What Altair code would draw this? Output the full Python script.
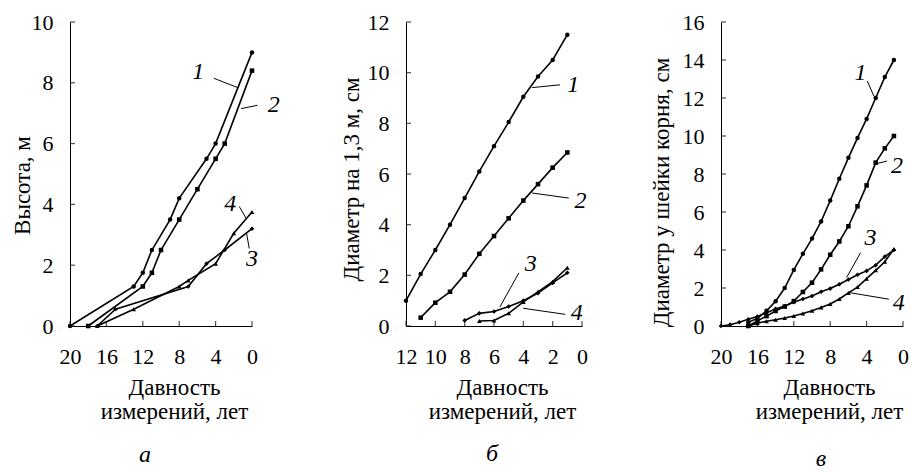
import altair as alt
import pandas as pd

FONT = "Liberation Serif"

# ---------- Panel а : height ----------
A_X1 = [20, 13, 12, 11, 9, 8, 5, 4, 0]
A_Y1 = [0, 1.3, 1.75, 2.5, 3.5, 4.2, 5.5, 6.0, 9.0]
A_X2 = [18, 12, 11, 10, 8, 6, 4, 3, 0]
A_Y2 = [0, 1.3, 1.75, 2.5, 3.5, 4.5, 5.5, 6.0, 8.4]
A_X3 = [17, 15, 7, 5, 3, 0]
A_Y3 = [0, 0.55, 1.3, 2.05, 2.5, 3.2]
A_X4 = [17, 13, 8, 7, 4, 2, 0]
A_Y4 = [0, 0.55, 1.3, 1.5, 2.05, 3.05, 3.75]
A_XT = [20, 16, 12, 8, 4, 0]
A_YT = [0, 2, 4, 6, 8, 10]
A_LAB = ["1", "2", "3", "4"]
A_LAB_X = [5.9, -2.4, 0.0, 2.4]
A_LAB_Y = [8.35, 7.26, 2.2, 4.0]
A_LEAD_X1 = [4.2, 1.2, 0.6, 1.4]
A_LEAD_Y1 = [8.15, 7.15, 3.05, 3.93]
A_LEAD_X2 = [1.55, -0.6, 0.3, 0.66]
A_LEAD_Y2 = [7.84, 7.26, 2.55, 3.55]

# ---------- Panel б : diameter at 1.3 m ----------
B_X1 = [12, 11, 10, 9, 8, 7, 6, 5, 4, 3, 2, 1]
B_Y1 = [1.0, 2.05, 3.0, 4.0, 5.05, 6.1, 7.1, 8.05, 9.05, 9.85, 10.5, 11.5]
B_X2 = [11, 10, 9, 8, 7, 6, 5, 4, 3, 2, 1]
B_Y2 = [0.33, 0.92, 1.35, 2.03, 2.85, 3.55, 4.25, 4.95, 5.6, 6.25, 6.85]
B_X3 = [8, 7, 6, 5, 4, 3, 2, 1]
B_Y3 = [0.22, 0.5, 0.57, 0.77, 1.0, 1.3, 1.7, 2.1]
B_X4 = [7, 6, 5, 4, 3, 2, 1]
B_Y4 = [0.2, 0.22, 0.5, 0.95, 1.35, 1.75, 2.3]
B_XT = [12, 10, 8, 6, 4, 2, 0]
B_YT = [0, 2, 4, 6, 8, 10, 12]
B_LAB = ["1", "2", "3", "4"]
B_LAB_X = [0.6, 0.1, 3.5, 0.35]
B_LAB_Y = [9.53, 4.92, 2.44, 0.52]
B_LEAD_X1 = [3.4, 3.4, 4.3, 4.0]
B_LEAD_Y1 = [9.41, 5.25, 2.1, 0.7]
B_LEAD_X2 = [1.5, 0.9, 5.6, 1.15]
B_LEAD_Y2 = [9.52, 5.05, 0.75, 0.46]

# ---------- Panel в : root collar diameter ----------
C_X1 = [17, 16, 15, 14, 13, 12, 11, 10, 9, 8, 7, 6, 5, 4, 3, 2, 1]
C_Y1 = [0.2, 0.4, 0.8, 1.3, 2.0, 2.95, 3.8, 4.6, 5.5, 6.6, 7.75, 8.85, 9.9, 10.9, 12.0, 13.1, 14.0]
C_X2 = [17, 16, 15, 14, 13, 12, 11, 10, 9, 8, 7, 6, 5, 4, 3, 2, 1]
C_Y2 = [0.0, 0.27, 0.52, 0.79, 1.02, 1.31, 1.79, 2.28, 2.98, 3.75, 4.45, 5.25, 6.3, 7.4, 8.6, 9.35, 10.0]
C_X3 = [20, 19, 18, 17, 16, 15, 14, 13, 12, 11, 10, 9, 8, 7, 6, 5, 4, 3, 2, 1]
C_Y3 = [0, 0.07, 0.2, 0.35, 0.5, 0.7, 0.9, 1.05, 1.25, 1.42, 1.58, 1.8, 1.97, 2.2, 2.45, 2.7, 2.9, 3.2, 3.65, 4.0]
C_X4 = [17, 16, 15, 14, 13, 12, 11, 10, 9, 8, 7, 6, 5, 4, 3, 2, 1]
C_Y4 = [0, 0.15, 0.25, 0.33, 0.42, 0.53, 0.66, 0.8, 0.98, 1.16, 1.42, 1.74, 2.05, 2.49, 2.93, 3.38, 4.05]
C_XT = [20, 16, 12, 8, 4, 0]
C_YT = [0, 2, 4, 6, 8, 10, 12, 14, 16]
C_LAB = ["1", "2", "3", "4"]
C_LAB_X = [4.66, 0.65, 3.57, 0.47]
C_LAB_Y = [13.34, 8.42, 4.65, 1.23]
C_LEAD_X1 = [3.93, 3.2, 4.66, 5.92]
C_LEAD_Y1 = [12.9, 8.51, 3.86, 1.76]
C_LEAD_X2 = [3.2, 1.75, 6.2, 1.56]
C_LEAD_Y2 = [12.1, 8.68, 2.55, 1.41]

SERIES = ["1", "2", "3", "4"]
SHAPES = ["circle", "square", "diamond", "triangle-up"]
X_TITLE = ["Давность", "измерений, лет"]


def panel(series, xt, yt, xdom, ydom, ytitle, lab, labx, laby, lx1, ly1, lx2, ly2,
          width, height, xtitle_x, ytitle_x, ytitle_y, letter, letter_dx, letter_off, sizes):
    rows = []
    for s, xs, ys in series:
        for x, y in zip(xs, ys):
            rows.append({"s": s, "yr": x, "v": y})
    df = pd.DataFrame(rows)

    xscale = alt.Scale(domain=xdom, reverse=True, nice=False, zero=False)
    yscale = alt.Scale(domain=ydom, nice=False, zero=False)
    xaxis = alt.Axis(values=xt, title=X_TITLE, grid=False, ticks=False, tickSize=0,
                     domainColor="black", labelFont=FONT, labelFontSize=22,
                     labelColor="black", labelFlush=False, labelOverlap=False,
                     titleFont=FONT, titleFontSize=23, titleFontWeight="normal",
                     titleColor="black", labelPadding=20, titleX=xtitle_x, titleY=50,
                     titleAlign="center", titleBaseline="top", titleLineHeight=24)
    yaxis = alt.Axis(values=yt, title=ytitle, grid=False, ticks=False, tickSize=0,
                     domainColor="black", labelFont=FONT, labelFontSize=22,
                     labelColor="black", labelFlush=False, labelOverlap=False,
                     titleFont=FONT, titleFontSize=23, titleFontWeight="normal",
                     titleColor="black", labelPadding=17, titleX=ytitle_x, titleY=ytitle_y,
                     titleAngle=270, titleAlign="center", titleBaseline="middle")
    X = alt.X("yr:Q", scale=xscale, axis=xaxis)
    Y = alt.Y("v:Q", scale=yscale, axis=yaxis)

    lines = alt.Chart(df).mark_line(color="black", strokeWidth=1.6).encode(
        X, Y, detail="s:N")
    points = alt.Chart(df).mark_point(filled=True, color="black", opacity=1).encode(
        X, Y,
        shape=alt.Shape("s:N", scale=alt.Scale(domain=SERIES, range=SHAPES), legend=None),
        size=alt.Size("s:O", scale=alt.Scale(domain=SERIES, range=sizes), legend=None),
    )
    xt_df = pd.DataFrame({"yr": xt, "v": [ydom[0]] * len(xt)})
    yt_df = pd.DataFrame({"yr": [xdom[1]] * len(yt), "v": yt})
    xticks = alt.Chart(xt_df).mark_tick(orient="vertical", size=5, thickness=1.2,
                                        color="black", yOffset=-2.5).encode(X, Y)
    yticks = alt.Chart(yt_df).mark_tick(orient="horizontal", size=5, thickness=1.2,
                                        color="black", xOffset=2.5).encode(X, Y)
    lead_df = pd.DataFrame({"yr": lx1, "v": ly1, "yr2": lx2, "v2": ly2})
    leaders = alt.Chart(lead_df).mark_rule(color="black", strokeWidth=1).encode(
        X, Y, x2="yr2:Q", y2="v2:Q")
    lab_df = pd.DataFrame({"yr": labx, "v": laby, "t": lab})
    labels = alt.Chart(lab_df).mark_text(font=FONT, fontStyle="italic", fontSize=24,
                                         color="black").encode(X, Y, text="t:N")
    # tiny white bold glyph: makes the browser load the serif family's faces
    warm_df = pd.DataFrame({"yr": [xdom[0]], "v": [ydom[1]], "t": ["."]})
    warm = alt.Chart(warm_df).mark_text(font=FONT, fontWeight="bold", fontSize=2,
                                        color="white").encode(X, Y, text="t:N")
    return alt.layer(lines, points, xticks, yticks, leaders, labels, warm).properties(
        width=width, height=height,
        view=alt.ViewBackground(stroke=None),
        title=alt.TitleParams(letter, orient="bottom", anchor="middle", frame="group",
                              font=FONT, fontStyle="italic", fontSize=24,
                              fontWeight="normal", color="black", dx=letter_dx,
                              offset=letter_off),
    )


pa = panel([("1", A_X1, A_Y1), ("2", A_X2, A_Y2), ("3", A_X3, A_Y3), ("4", A_X4, A_Y4)],
           A_XT, A_YT, [0, 20], [0, 10], "Высота, м",
           A_LAB, A_LAB_X, A_LAB_Y, A_LEAD_X1, A_LEAD_Y1, A_LEAD_X2, A_LEAD_Y2,
           182, 304, 104, -48, 163, "а", -16, 20, [20, 22, 20, 32])
pb = panel([("1", B_X1, B_Y1), ("2", B_X2, B_Y2), ("3", B_X3, B_Y3), ("4", B_X4, B_Y4)],
           B_XT, B_YT, [0, 12], [0, 12], "Диаметр на 1,3 м, см",
           B_LAB, B_LAB_X, B_LAB_Y, B_LEAD_X1, B_LEAD_Y1, B_LEAD_X2, B_LEAD_Y2,
           176, 304, 96, -55, 157, "б", -2, 19, [20, 22, 20, 32])
pc = panel([("1", C_X1, C_Y1), ("2", C_X2, C_Y2), ("3", C_X3, C_Y3), ("4", C_X4, C_Y4)],
           C_XT, C_YT, [0, 20], [0, 16], "Диаметр у шейки корня, см",
           C_LAB, C_LAB_X, C_LAB_Y, C_LEAD_X1, C_LEAD_Y1, C_LEAD_X2, C_LEAD_Y2,
           182, 304, 108, -60, 170, "в", 9, 24, [14, 16, 14, 24])

chart = alt.hconcat(
    pa,
    alt.hconcat(pb, pc, spacing=139, bounds="flush"),
    spacing=154, bounds="flush",
).properties(
    padding={"left": 11, "top": 11, "right": 1, "bottom": 0},
)

chart.save("out.html", embed_options={"renderer": "svg", "actions": False})
